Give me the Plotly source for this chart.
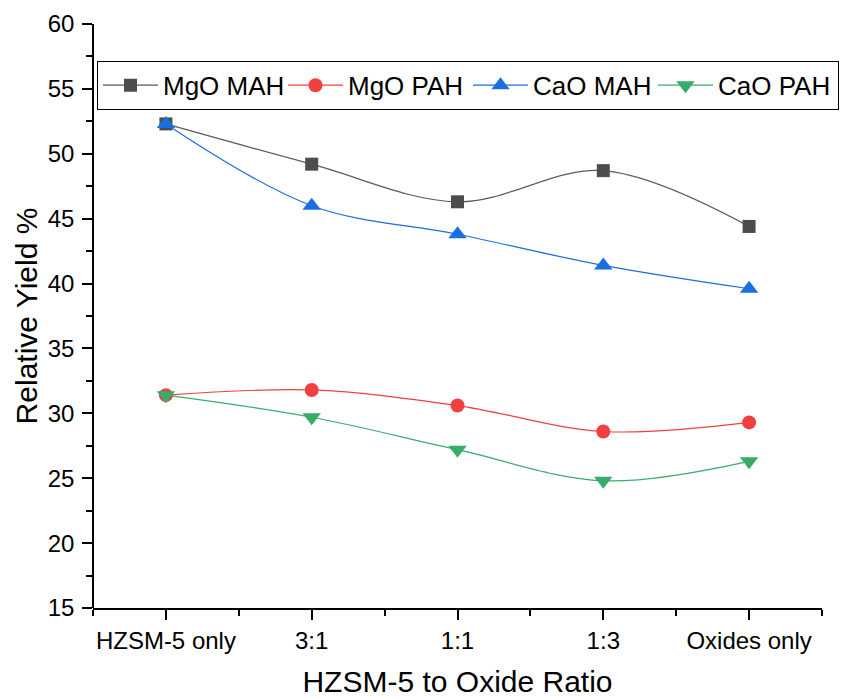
import plotly.graph_objects as go

categories = ["HZSM-5 only", "3:1", "1:1", "1:3", "Oxides only"]
mgo_mah = [52.3, 49.2, 46.3, 48.7, 44.4]
mgo_pah = [31.4, 31.8, 30.6, 28.6, 29.3]
cao_mah = [52.3, 46.0, 43.8, 41.4, 39.6]
cao_pah = [31.4, 29.7, 27.2, 24.8, 26.3]

x_pos = list(range(len(categories)))

series = [
    ("MgO MAH", mgo_mah, "#4d4d4d", "#5a5a5a", "square", 13),
    ("MgO PAH", mgo_pah, "#f14040", "#f14040", "circle", 14),
    ("CaO MAH", cao_mah, "#1a6fdf", "#1a6fdf", "triangle-up", 16),
    ("CaO PAH", cao_pah, "#37ad6b", "#37ad6b", "triangle-down", 16),
]

fig = go.Figure()
for name, vals, mcol, lcol, sym, sz in series:
    fig.add_trace(go.Scatter(
        x=x_pos, y=vals, name=name, mode="lines+markers",
        line=dict(color=lcol, width=1.2, shape="spline", smoothing=1.0),
        marker=dict(color=mcol, symbol=sym, size=sz, line=dict(width=0)),
    ))

font_family = "Liberation Sans, Arial, sans-serif"
W, H = 842, 698
plot_l, plot_r_px = 93, 822
fig.update_layout(
    width=W, height=H,
    margin=dict(l=0, r=0, t=24, b=90),
    paper_bgcolor="white", plot_bgcolor="white",
    font=dict(family=font_family, color="black"),
    showlegend=True,
    legend=dict(
        orientation="h", x=97 / W, y=0.937, xanchor="left", yanchor="top",
        bordercolor="black", borderwidth=1, bgcolor="white",
        font=dict(size=26, family=font_family),
        entrywidth=115, entrywidthmode="pixels",
        itemwidth=55,
    ),
    xaxis=dict(
        domain=[plot_l / W, plot_r_px / W], automargin=False,
        range=[-0.5, 4.5], tickmode="array", tickvals=x_pos, ticktext=categories,
        showgrid=False, zeroline=False, showline=True, linecolor="black", linewidth=1.5,
        ticks="outside", ticklen=10, tickwidth=1.5, tickcolor="black",
        tickfont=dict(size=24), ticklabelstandoff=0,
        minor=dict(ticks="outside", ticklen=6, tickwidth=1.5, tickcolor="black",
                   tickmode="linear", tick0=-0.5, dtick=0.5),
        title=dict(text="HZSM-5 to Oxide Ratio", font=dict(size=30), standoff=20),
    ),
    yaxis=dict(
        anchor="free", position=plot_l / W, automargin=False,
        range=[15, 60], tickmode="linear", tick0=15, dtick=5,
        showgrid=False, zeroline=False, showline=True, linecolor="black", linewidth=1.5,
        ticks="outside", ticklen=10, tickwidth=1.5, tickcolor="black",
        tickfont=dict(size=24), ticklabelstandoff=3,
        minor=dict(ticks="outside", ticklen=6, tickwidth=1.5, tickcolor="black",
                   tickmode="linear", tick0=15, dtick=2.5),
        title=dict(text="Relative Yield %", font=dict(size=30), standoff=0),
    ),
)

fig.write_html("out.html")
